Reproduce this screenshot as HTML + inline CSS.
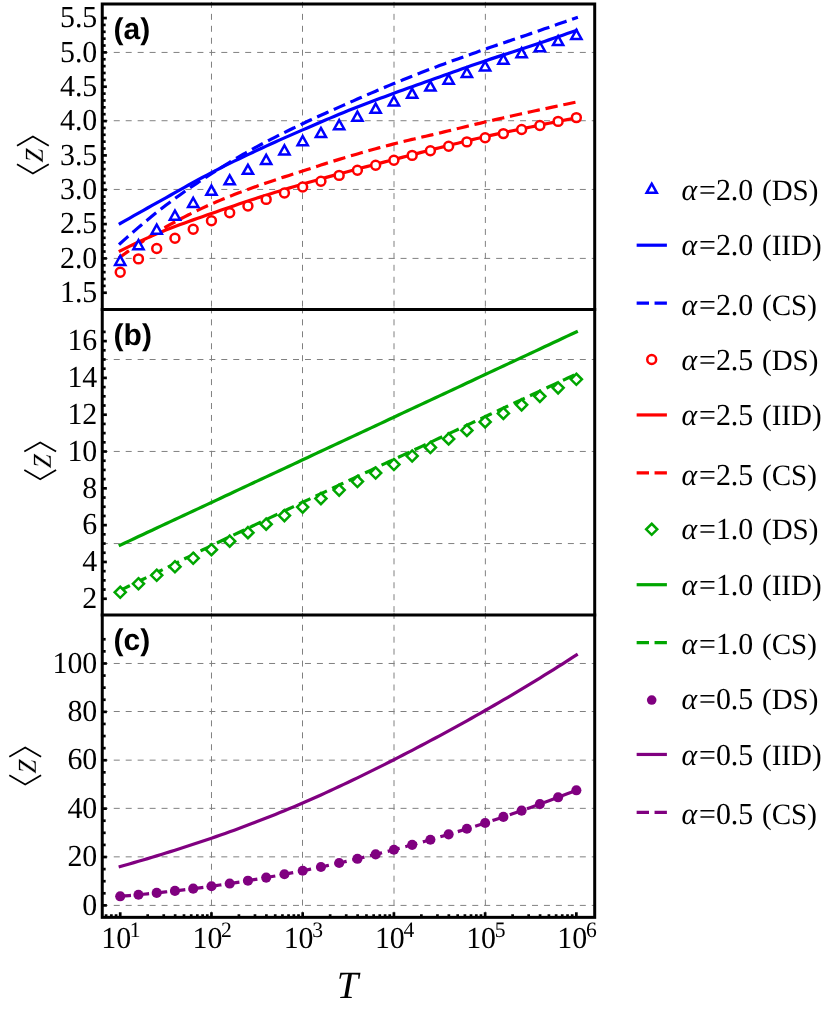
<!DOCTYPE html>
<html><head><meta charset="utf-8"><title>Figure</title>
<style>
html,body{margin:0;padding:0;background:#fff;}
body{width:830px;height:1010px;overflow:hidden;font-family:"Liberation Serif",serif;}
svg{display:block;will-change:transform;}
</style></head><body>
<svg width="830" height="1010" viewBox="0 0 830 1010">
<rect width="830" height="1010" fill="#fff"/>
<g stroke="#808080" stroke-width="1" stroke-dasharray="6 5.95" fill="none">
<path d="M211.48 1.9 V309.5"/>
<path d="M302.5 1.9 V309.5"/>
<path d="M394 1.9 V309.5"/>
<path d="M485.36 1.9 V309.5"/>
<path d="M101.8 258.4 H594.7"/>
<path d="M101.8 189.45 H594.7"/>
<path d="M101.8 120.72 H594.7"/>
<path d="M101.8 52.43 H594.7"/>
<path d="M211.48 307.4 V614.9"/>
<path d="M302.5 307.4 V614.9"/>
<path d="M394 307.4 V614.9"/>
<path d="M485.36 307.4 V614.9"/>
<path d="M101.8 543.55 H594.7"/>
<path d="M101.8 451.45 H594.7"/>
<path d="M101.8 359.5 H594.7"/>
<path d="M211.48 612.8 V917.35"/>
<path d="M302.5 612.8 V917.35"/>
<path d="M394 612.8 V917.35"/>
<path d="M485.36 612.8 V917.35"/>
<path d="M101.8 905.4 H594.7"/>
<path d="M101.8 856.85 H594.7"/>
<path d="M101.8 808.35 H594.7"/>
<path d="M101.8 760.15 H594.7"/>
<path d="M101.8 711.5 H594.7"/>
<path d="M101.8 663.47 H594.7"/>
</g>
<path d="M120.22 223.5 L124.78 220.91 L129.34 218.32 L133.9 215.73 L138.47 213.15 L143.03 210.58 L147.59 208.01 L152.15 205.45 L156.71 202.9 L161.27 200.35 L165.84 197.8 L170.4 195.25 L174.96 192.69 L179.52 190.12 L184.08 187.56 L188.64 185.01 L193.2 182.47 L197.77 179.96 L202.33 177.48 L206.89 175.04 L211.45 172.65 L216.01 170.3 L220.57 167.98 L225.13 165.69 L229.7 163.42 L234.26 161.18 L238.82 158.97 L243.38 156.77 L247.94 154.6 L252.5 152.44 L257.06 150.3 L261.63 148.18 L266.19 146.08 L270.75 144.01 L275.31 141.95 L279.87 139.91 L284.43 137.89 L289 135.88 L293.56 133.88 L298.12 131.89 L302.68 129.9 L307.24 127.92 L311.8 125.94 L316.36 123.96 L320.93 122 L325.49 120.05 L330.05 118.12 L334.61 116.2 L339.17 114.31 L343.73 112.44 L348.3 110.6 L352.86 108.79 L357.42 107 L361.98 105.24 L366.54 103.5 L371.1 101.77 L375.66 100.06 L380.23 98.36 L384.79 96.67 L389.35 94.98 L393.91 93.3 L398.47 91.62 L403.03 89.96 L407.59 88.3 L412.16 86.66 L416.72 85.02 L421.28 83.39 L425.84 81.76 L430.4 80.14 L434.96 78.52 L439.52 76.9 L444.09 75.28 L448.65 73.66 L453.21 72.04 L457.77 70.42 L462.33 68.8 L466.89 67.2 L471.46 65.6 L476.02 64.02 L480.58 62.45 L485.14 60.9 L489.7 59.37 L494.26 57.86 L498.82 56.37 L503.39 54.89 L507.95 53.42 L512.51 51.95 L517.07 50.48 L521.63 49 L526.19 47.51 L530.75 46 L535.32 44.47 L539.88 42.94 L544.44 41.4 L549 39.86 L553.56 38.31 L558.12 36.75 L562.69 35.18 L567.25 33.61 L571.81 32.03 L576.37 30.45" fill="none" stroke="#0000ff" stroke-width="3.2" stroke-linecap="square"/>
<path d="M120.22 243.5 L124.78 239.38 L129.34 235.33 L133.9 231.34 L138.47 227.41 L143.03 223.55 L147.59 219.76 L152.15 216.03 L156.71 212.38 L161.27 208.8 L165.84 205.3 L170.4 201.87 L174.96 198.5 L179.52 195.2 L184.08 191.95 L188.64 188.76 L193.2 185.63 L197.77 182.55 L202.33 179.52 L206.89 176.54 L211.45 173.6 L216.01 170.7 L220.57 167.85 L225.13 165.04 L229.7 162.28 L234.26 159.55 L238.82 156.87 L243.38 154.24 L247.94 151.65 L252.5 149.1 L257.06 146.6 L261.63 144.15 L266.19 141.74 L270.75 139.38 L275.31 137.05 L279.87 134.76 L284.43 132.51 L289 130.27 L293.56 128.06 L298.12 125.87 L302.68 123.7 L307.24 121.55 L311.8 119.42 L316.36 117.33 L320.93 115.25 L325.49 113.2 L330.05 111.16 L334.61 109.14 L339.17 107.12 L343.73 105.11 L348.3 103.1 L352.86 101.09 L357.42 99.09 L361.98 97.09 L366.54 95.1 L371.1 93.13 L375.66 91.17 L380.23 89.22 L384.79 87.29 L389.35 85.38 L393.91 83.5 L398.47 81.64 L403.03 79.79 L407.59 77.96 L412.16 76.15 L416.72 74.35 L421.28 72.57 L425.84 70.8 L430.4 69.05 L434.96 67.32 L439.52 65.6 L444.09 63.9 L448.65 62.22 L453.21 60.55 L457.77 58.9 L462.33 57.26 L466.89 55.63 L471.46 54.01 L476.02 52.4 L480.58 50.8 L485.14 49.2 L489.7 47.61 L494.26 46.03 L498.82 44.47 L503.39 42.92 L507.95 41.37 L512.51 39.82 L517.07 38.28 L521.63 36.73 L526.19 35.17 L530.75 33.6 L535.32 32.02 L539.88 30.44 L544.44 28.86 L549 27.28 L553.56 25.69 L558.12 24.1 L562.69 22.5 L567.25 20.9 L571.81 19.3 L576.37 17.7" fill="none" stroke="#0000ff" stroke-width="3.2" stroke-linecap="square" stroke-dasharray="9.2 9.01"/>
<path d="M120.22 250.9 L124.78 248.63 L129.34 246.4 L133.9 244.2 L138.47 242.05 L143.03 239.95 L147.59 237.88 L152.15 235.86 L156.71 233.89 L161.27 231.97 L165.84 230.1 L170.4 228.28 L174.96 226.52 L179.52 224.81 L184.08 223.13 L188.64 221.49 L193.2 219.87 L197.77 218.27 L202.33 216.68 L206.89 215.09 L211.45 213.5 L216.01 211.91 L220.57 210.32 L225.13 208.75 L229.7 207.19 L234.26 205.64 L238.82 204.1 L243.38 202.58 L247.94 201.07 L252.5 199.58 L257.06 198.1 L261.63 196.64 L266.19 195.19 L270.75 193.76 L275.31 192.34 L279.87 190.93 L284.43 189.53 L289 188.15 L293.56 186.79 L298.12 185.44 L302.68 184.1 L307.24 182.78 L311.8 181.48 L316.36 180.19 L320.93 178.91 L325.49 177.65 L330.05 176.39 L334.61 175.15 L339.17 173.91 L343.73 172.68 L348.3 171.45 L352.86 170.23 L357.42 169.02 L361.98 167.82 L366.54 166.63 L371.1 165.45 L375.66 164.27 L380.23 163.09 L384.79 161.91 L389.35 160.73 L393.91 159.55 L398.47 158.36 L403.03 157.17 L407.59 155.98 L412.16 154.79 L416.72 153.6 L421.28 152.41 L425.84 151.23 L430.4 150.06 L434.96 148.9 L439.52 147.75 L444.09 146.61 L448.65 145.46 L453.21 144.32 L457.77 143.19 L462.33 142.06 L466.89 140.95 L471.46 139.84 L476.02 138.76 L480.58 137.69 L485.14 136.65 L489.7 135.63 L494.26 134.63 L498.82 133.64 L503.39 132.67 L507.95 131.71 L512.51 130.76 L517.07 129.82 L521.63 128.88 L526.19 127.94 L530.75 127 L535.32 126.06 L539.88 125.12 L544.44 124.19 L549 123.27 L553.56 122.34 L558.12 121.43 L562.69 120.51 L567.25 119.6 L571.81 118.7 L576.37 117.8" fill="none" stroke="#ff0000" stroke-width="3.2" stroke-linecap="square"/>
<path d="M120.22 257 L124.78 253.68 L129.34 250.43 L133.9 247.24 L138.47 244.12 L143.03 241.07 L147.59 238.09 L152.15 235.2 L156.71 232.38 L161.27 229.65 L165.84 227 L170.4 224.43 L174.96 221.92 L179.52 219.47 L184.08 217.08 L188.64 214.76 L193.2 212.49 L197.77 210.28 L202.33 208.13 L206.89 206.04 L211.45 204 L216.01 202.02 L220.57 200.1 L225.13 198.22 L229.7 196.4 L234.26 194.61 L238.82 192.86 L243.38 191.15 L247.94 189.46 L252.5 187.8 L257.06 186.15 L261.63 184.53 L266.19 182.95 L270.75 181.4 L275.31 179.87 L279.87 178.37 L284.43 176.89 L289 175.41 L293.56 173.94 L298.12 172.47 L302.68 171 L307.24 169.52 L311.8 168.04 L316.36 166.57 L320.93 165.1 L325.49 163.64 L330.05 162.19 L334.61 160.76 L339.17 159.35 L343.73 157.96 L348.3 156.6 L352.86 155.26 L357.42 153.93 L361.98 152.61 L366.54 151.31 L371.1 150.03 L375.66 148.76 L380.23 147.52 L384.79 146.29 L389.35 145.08 L393.91 143.9 L398.47 142.74 L403.03 141.62 L407.59 140.51 L412.16 139.43 L416.72 138.35 L421.28 137.29 L425.84 136.22 L430.4 135.16 L434.96 134.09 L439.52 133 L444.09 131.9 L448.65 130.79 L453.21 129.68 L457.77 128.57 L462.33 127.46 L466.89 126.35 L471.46 125.25 L476.02 124.15 L480.58 123.07 L485.14 122 L489.7 120.94 L494.26 119.89 L498.82 118.85 L503.39 117.82 L507.95 116.79 L512.51 115.77 L517.07 114.76 L521.63 113.75 L526.19 112.75 L530.75 111.75 L535.32 110.76 L539.88 109.77 L544.44 108.79 L549 107.82 L553.56 106.85 L558.12 105.89 L562.69 104.93 L567.25 103.98 L571.81 103.04 L576.37 102.1" fill="none" stroke="#ff0000" stroke-width="3.2" stroke-linecap="square" stroke-dasharray="9.2 9.01"/>
<path d="M120.22 545.1 L124.78 542.97 L129.34 540.84 L133.9 538.7 L138.47 536.57 L143.03 534.44 L147.59 532.31 L152.15 530.18 L156.71 528.04 L161.27 525.91 L165.84 523.78 L170.4 521.65 L174.96 519.52 L179.52 517.38 L184.08 515.25 L188.64 513.12 L193.2 510.99 L197.77 508.86 L202.33 506.72 L206.89 504.59 L211.45 502.46 L216.01 500.33 L220.57 498.2 L225.13 496.06 L229.7 493.93 L234.26 491.8 L238.82 489.67 L243.38 487.54 L247.94 485.4 L252.5 483.27 L257.06 481.14 L261.63 479.01 L266.19 476.88 L270.75 474.74 L275.31 472.61 L279.87 470.48 L284.43 468.35 L289 466.22 L293.56 464.08 L298.12 461.95 L302.68 459.82 L307.24 457.69 L311.8 455.56 L316.36 453.42 L320.93 451.29 L325.49 449.16 L330.05 447.03 L334.61 444.9 L339.17 442.76 L343.73 440.63 L348.3 438.5 L352.86 436.37 L357.42 434.24 L361.98 432.1 L366.54 429.97 L371.1 427.84 L375.66 425.71 L380.23 423.58 L384.79 421.44 L389.35 419.31 L393.91 417.18 L398.47 415.05 L403.03 412.92 L407.59 410.78 L412.16 408.65 L416.72 406.52 L421.28 404.39 L425.84 402.26 L430.4 400.12 L434.96 397.99 L439.52 395.86 L444.09 393.73 L448.65 391.6 L453.21 389.46 L457.77 387.33 L462.33 385.2 L466.89 383.07 L471.46 380.94 L476.02 378.8 L480.58 376.67 L485.14 374.54 L489.7 372.41 L494.26 370.28 L498.82 368.14 L503.39 366.01 L507.95 363.88 L512.51 361.75 L517.07 359.62 L521.63 357.48 L526.19 355.35 L530.75 353.22 L535.32 351.09 L539.88 348.96 L544.44 346.82 L549 344.69 L553.56 342.56 L558.12 340.43 L562.69 338.3 L567.25 336.16 L571.81 334.03 L576.37 331.9" fill="none" stroke="#00a600" stroke-width="3.2" stroke-linecap="square"/>
<path d="M120.22 590.3 L124.78 588.09 L129.34 585.88 L133.9 583.67 L138.47 581.46 L143.03 579.24 L147.59 577.02 L152.15 574.79 L156.71 572.56 L161.27 570.33 L165.84 568.1 L170.4 565.86 L174.96 563.61 L179.52 561.35 L184.08 559.08 L188.64 556.82 L193.2 554.56 L197.77 552.3 L202.33 550.05 L206.89 547.82 L211.45 545.6 L216.01 543.4 L220.57 541.21 L225.13 539.03 L229.7 536.86 L234.26 534.69 L238.82 532.53 L243.38 530.38 L247.94 528.22 L252.5 526.06 L257.06 523.9 L261.63 521.74 L266.19 519.57 L270.75 517.41 L275.31 515.25 L279.87 513.09 L284.43 510.93 L289 508.78 L293.56 506.62 L298.12 504.46 L302.68 502.31 L307.24 500.15 L311.8 498 L316.36 495.85 L320.93 493.69 L325.49 491.54 L330.05 489.39 L334.61 487.24 L339.17 485.09 L343.73 482.95 L348.3 480.8 L352.86 478.65 L357.42 476.51 L361.98 474.37 L366.54 472.22 L371.1 470.08 L375.66 467.94 L380.23 465.8 L384.79 463.66 L389.35 461.53 L393.91 459.39 L398.47 457.25 L403.03 455.12 L407.59 452.98 L412.16 450.84 L416.72 448.71 L421.28 446.58 L425.84 444.44 L430.4 442.31 L434.96 440.17 L439.52 438.04 L444.09 435.91 L448.65 433.77 L453.21 431.64 L457.77 429.51 L462.33 427.37 L466.89 425.24 L471.46 423.11 L476.02 420.97 L480.58 418.84 L485.14 416.7 L489.7 414.56 L494.26 412.43 L498.82 410.29 L503.39 408.16 L507.95 406.02 L512.51 403.89 L517.07 401.75 L521.63 399.62 L526.19 397.48 L530.75 395.35 L535.32 393.21 L539.88 391.08 L544.44 388.94 L549 386.81 L553.56 384.67 L558.12 382.54 L562.69 380.4 L567.25 378.27 L571.81 376.13 L576.37 374" fill="none" stroke="#00a600" stroke-width="3.2" stroke-linecap="square" stroke-dasharray="9.2 9.01"/>
<path d="M120.22 866.5 L124.78 865.21 L129.34 863.92 L133.9 862.61 L138.47 861.28 L143.03 859.95 L147.59 858.6 L152.15 857.24 L156.71 855.86 L161.27 854.47 L165.84 853.07 L170.4 851.65 L174.96 850.22 L179.52 848.77 L184.08 847.31 L188.64 845.83 L193.2 844.34 L197.77 842.83 L202.33 841.3 L206.89 839.76 L211.45 838.2 L216.01 836.62 L220.57 835.03 L225.13 833.42 L229.7 831.78 L234.26 830.14 L238.82 828.47 L243.38 826.78 L247.94 825.08 L252.5 823.35 L257.06 821.61 L261.63 819.84 L266.19 818.05 L270.75 816.25 L275.31 814.42 L279.87 812.57 L284.43 810.7 L289 808.81 L293.56 806.9 L298.12 804.96 L302.68 803 L307.24 801.02 L311.8 799.01 L316.36 796.99 L320.93 794.94 L325.49 792.87 L330.05 790.78 L334.61 788.67 L339.17 786.55 L343.73 784.4 L348.3 782.24 L352.86 780.05 L357.42 777.85 L361.98 775.64 L366.54 773.4 L371.1 771.16 L375.66 768.89 L380.23 766.62 L384.79 764.32 L389.35 762.02 L393.91 759.7 L398.47 757.37 L403.03 755.03 L407.59 752.67 L412.16 750.3 L416.72 747.92 L421.28 745.52 L425.84 743.11 L430.4 740.69 L434.96 738.26 L439.52 735.8 L444.09 733.34 L448.65 730.86 L453.21 728.37 L457.77 725.86 L462.33 723.34 L466.89 720.8 L471.46 718.25 L476.02 715.68 L480.58 713.1 L485.14 710.5 L489.7 707.89 L494.26 705.26 L498.82 702.61 L503.39 699.95 L507.95 697.27 L512.51 694.57 L517.07 691.86 L521.63 689.13 L526.19 686.38 L530.75 683.62 L535.32 680.84 L539.88 678.04 L544.44 675.22 L549 672.39 L553.56 669.54 L558.12 666.67 L562.69 663.78 L567.25 660.87 L571.81 657.95 L576.37 655" fill="none" stroke="#800080" stroke-width="3.2" stroke-linecap="square"/>
<path d="M120.22 896.31 L124.78 895.93 L129.34 895.54 L133.9 895.13 L138.47 894.71 L143.03 894.28 L147.59 893.84 L152.15 893.38 L156.71 892.91 L161.27 892.42 L165.84 891.93 L170.4 891.41 L174.96 890.89 L179.52 890.35 L184.08 889.8 L188.64 889.24 L193.2 888.66 L197.77 888.07 L202.33 887.47 L206.89 886.85 L211.45 886.22 L216.01 885.58 L220.57 884.92 L225.13 884.25 L229.7 883.56 L234.26 882.86 L238.82 882.15 L243.38 881.43 L247.94 880.69 L252.5 879.94 L257.06 879.17 L261.63 878.39 L266.19 877.6 L270.75 876.79 L275.31 875.97 L279.87 875.13 L284.43 874.28 L289 873.42 L293.56 872.55 L298.12 871.66 L302.68 870.75 L307.24 869.83 L311.8 868.9 L316.36 867.96 L320.93 867 L325.49 866.02 L330.05 865.04 L334.61 864.03 L339.17 863.02 L343.73 861.99 L348.3 860.94 L352.86 859.89 L357.42 858.81 L361.98 857.73 L366.54 856.63 L371.1 855.51 L375.66 854.38 L380.23 853.24 L384.79 852.08 L389.35 850.91 L393.91 849.73 L398.47 848.53 L403.03 847.31 L407.59 846.08 L412.16 844.84 L416.72 843.58 L421.28 842.31 L425.84 841.02 L430.4 839.72 L434.96 838.41 L439.52 837.08 L444.09 835.73 L448.65 834.37 L453.21 833 L457.77 831.61 L462.33 830.21 L466.89 828.79 L471.46 827.36 L476.02 825.91 L480.58 824.45 L485.14 822.97 L489.7 821.48 L494.26 819.97 L498.82 818.45 L503.39 816.92 L507.95 815.37 L512.51 813.8 L517.07 812.22 L521.63 810.62 L526.19 809.01 L530.75 807.39 L535.32 805.75 L539.88 804.09 L544.44 802.42 L549 800.74 L553.56 799.04 L558.12 797.32 L562.69 795.59 L567.25 793.84 L571.81 792.08 L576.37 790.31" fill="none" stroke="#800080" stroke-width="3.2" stroke-linecap="square" stroke-dasharray="9.2 9.01"/>
<g fill="#fff" stroke="#0000ff" stroke-width="2.5" stroke-linejoin="miter">
<path d="M120.22 255.88 L125.32 264.98 L115.12 264.98 Z"/>
<path d="M138.47 240.07 L143.57 249.17 L133.37 249.17 Z"/>
<path d="M156.71 224.57 L161.81 233.67 L151.61 233.67 Z"/>
<path d="M174.96 210.57 L180.06 219.67 L169.86 219.67 Z"/>
<path d="M193.2 197.88 L198.3 206.97 L188.1 206.97 Z"/>
<path d="M211.45 185.67 L216.55 194.77 L206.35 194.77 Z"/>
<path d="M229.7 175.27 L234.8 184.37 L224.6 184.37 Z"/>
<path d="M247.94 164.77 L253.04 173.87 L242.84 173.87 Z"/>
<path d="M266.19 154.88 L271.29 163.97 L261.09 163.97 Z"/>
<path d="M284.43 145.38 L289.53 154.47 L279.33 154.47 Z"/>
<path d="M302.68 136.07 L307.78 145.17 L297.58 145.17 Z"/>
<path d="M320.93 127.98 L326.03 137.08 L315.83 137.08 Z"/>
<path d="M339.17 120.08 L344.27 129.18 L334.07 129.18 Z"/>
<path d="M357.42 111.58 L362.52 120.67 L352.32 120.67 Z"/>
<path d="M375.66 103.67 L380.76 112.77 L370.56 112.77 Z"/>
<path d="M393.91 96.38 L399.01 105.47 L388.81 105.47 Z"/>
<path d="M412.16 88.67 L417.26 97.77 L407.06 97.77 Z"/>
<path d="M430.4 81.48 L435.5 90.58 L425.3 90.58 Z"/>
<path d="M448.65 74.58 L453.75 83.67 L443.55 83.67 Z"/>
<path d="M466.89 67.88 L471.99 76.97 L461.79 76.97 Z"/>
<path d="M485.14 61.28 L490.24 70.38 L480.04 70.38 Z"/>
<path d="M503.39 54.58 L508.49 63.68 L498.29 63.68 Z"/>
<path d="M521.63 48.08 L526.73 57.18 L516.53 57.18 Z"/>
<path d="M539.88 42.08 L544.98 51.18 L534.78 51.18 Z"/>
<path d="M558.12 35.98 L563.22 45.08 L553.02 45.08 Z"/>
<path d="M576.37 29.78 L581.47 38.88 L571.27 38.88 Z"/>
</g>
<g fill="#fff" stroke="#ff0000" stroke-width="2.5">
<circle cx="120.22" cy="272.2" r="4.45"/>
<circle cx="138.47" cy="258.9" r="4.45"/>
<circle cx="156.71" cy="248.5" r="4.45"/>
<circle cx="174.96" cy="238.2" r="4.45"/>
<circle cx="193.2" cy="229.3" r="4.45"/>
<circle cx="211.45" cy="220.7" r="4.45"/>
<circle cx="229.7" cy="212.7" r="4.45"/>
<circle cx="247.94" cy="206" r="4.45"/>
<circle cx="266.19" cy="199.4" r="4.45"/>
<circle cx="284.43" cy="193" r="4.45"/>
<circle cx="302.68" cy="187" r="4.45"/>
<circle cx="320.93" cy="181.3" r="4.45"/>
<circle cx="339.17" cy="175.4" r="4.45"/>
<circle cx="357.42" cy="170.2" r="4.45"/>
<circle cx="375.66" cy="165.2" r="4.45"/>
<circle cx="393.91" cy="160.3" r="4.45"/>
<circle cx="412.16" cy="155.4" r="4.45"/>
<circle cx="430.4" cy="150.8" r="4.45"/>
<circle cx="448.65" cy="146.2" r="4.45"/>
<circle cx="466.89" cy="141.9" r="4.45"/>
<circle cx="485.14" cy="137.7" r="4.45"/>
<circle cx="503.39" cy="133.6" r="4.45"/>
<circle cx="521.63" cy="129.5" r="4.45"/>
<circle cx="539.88" cy="125.5" r="4.45"/>
<circle cx="558.12" cy="121.4" r="4.45"/>
<circle cx="576.37" cy="117.6" r="4.45"/>
</g>
<g fill="#fff" stroke="#00a600" stroke-width="2.5" stroke-linejoin="miter">
<path d="M120.22 586.75 L125.77 592.3 L120.22 597.85 L114.67 592.3 Z"/>
<path d="M138.47 578.23 L144.02 583.78 L138.47 589.33 L132.92 583.78 Z"/>
<path d="M156.71 569.71 L162.26 575.26 L156.71 580.81 L151.16 575.26 Z"/>
<path d="M174.96 561.19 L180.51 566.74 L174.96 572.29 L169.41 566.74 Z"/>
<path d="M193.2 552.67 L198.75 558.22 L193.2 563.77 L187.65 558.22 Z"/>
<path d="M211.45 544.15 L217 549.7 L211.45 555.25 L205.9 549.7 Z"/>
<path d="M229.7 535.63 L235.25 541.18 L229.7 546.73 L224.15 541.18 Z"/>
<path d="M247.94 527.11 L253.49 532.66 L247.94 538.21 L242.39 532.66 Z"/>
<path d="M266.19 518.59 L271.74 524.14 L266.19 529.69 L260.64 524.14 Z"/>
<path d="M284.43 510.07 L289.98 515.62 L284.43 521.17 L278.88 515.62 Z"/>
<path d="M302.68 501.55 L308.23 507.1 L302.68 512.65 L297.13 507.1 Z"/>
<path d="M320.93 493.03 L326.48 498.58 L320.93 504.13 L315.38 498.58 Z"/>
<path d="M339.17 484.51 L344.72 490.06 L339.17 495.61 L333.62 490.06 Z"/>
<path d="M357.42 475.99 L362.97 481.54 L357.42 487.09 L351.87 481.54 Z"/>
<path d="M375.66 467.47 L381.21 473.02 L375.66 478.57 L370.11 473.02 Z"/>
<path d="M393.91 458.95 L399.46 464.5 L393.91 470.05 L388.36 464.5 Z"/>
<path d="M412.16 450.43 L417.71 455.98 L412.16 461.53 L406.61 455.98 Z"/>
<path d="M430.4 441.91 L435.95 447.46 L430.4 453.01 L424.85 447.46 Z"/>
<path d="M448.65 433.39 L454.2 438.94 L448.65 444.49 L443.1 438.94 Z"/>
<path d="M466.89 424.87 L472.44 430.42 L466.89 435.97 L461.34 430.42 Z"/>
<path d="M485.14 416.35 L490.69 421.9 L485.14 427.45 L479.59 421.9 Z"/>
<path d="M503.39 407.83 L508.94 413.38 L503.39 418.93 L497.84 413.38 Z"/>
<path d="M521.63 399.31 L527.18 404.86 L521.63 410.41 L516.08 404.86 Z"/>
<path d="M539.88 390.79 L545.43 396.34 L539.88 401.89 L534.33 396.34 Z"/>
<path d="M558.12 382.27 L563.67 387.82 L558.12 393.37 L552.57 387.82 Z"/>
<path d="M576.37 373.75 L581.92 379.3 L576.37 384.85 L570.82 379.3 Z"/>
</g>
<g fill="#800080">
<circle cx="120.22" cy="896.31" r="5.05"/>
<circle cx="138.47" cy="894.71" r="5.05"/>
<circle cx="156.71" cy="892.91" r="5.05"/>
<circle cx="174.96" cy="890.89" r="5.05"/>
<circle cx="193.2" cy="888.66" r="5.05"/>
<circle cx="211.45" cy="886.22" r="5.05"/>
<circle cx="229.7" cy="883.56" r="5.05"/>
<circle cx="247.94" cy="880.69" r="5.05"/>
<circle cx="266.19" cy="877.6" r="5.05"/>
<circle cx="284.43" cy="874.28" r="5.05"/>
<circle cx="302.68" cy="870.75" r="5.05"/>
<circle cx="320.93" cy="867" r="5.05"/>
<circle cx="339.17" cy="863.02" r="5.05"/>
<circle cx="357.42" cy="858.81" r="5.05"/>
<circle cx="375.66" cy="854.38" r="5.05"/>
<circle cx="393.91" cy="849.73" r="5.05"/>
<circle cx="412.16" cy="844.84" r="5.05"/>
<circle cx="430.4" cy="839.72" r="5.05"/>
<circle cx="448.65" cy="834.37" r="5.05"/>
<circle cx="466.89" cy="828.79" r="5.05"/>
<circle cx="485.14" cy="822.97" r="5.05"/>
<circle cx="503.39" cy="816.92" r="5.05"/>
<circle cx="521.63" cy="810.62" r="5.05"/>
<circle cx="539.88" cy="804.09" r="5.05"/>
<circle cx="558.12" cy="797.32" r="5.05"/>
<circle cx="576.37" cy="790.31" r="5.05"/>
</g>
<g stroke="#000" stroke-width="2.7" fill="none">
<path d="M102.25 292.75 H106.85"/>
<path d="M102.25 285.88 H105.65"/>
<path d="M102.25 279.01 H105.65"/>
<path d="M102.25 272.14 H105.65"/>
<path d="M102.25 265.28 H105.65"/>
<path d="M102.25 258.41 H106.85"/>
<path d="M102.25 251.54 H105.65"/>
<path d="M102.25 244.68 H105.65"/>
<path d="M102.25 237.81 H105.65"/>
<path d="M102.25 230.94 H105.65"/>
<path d="M102.25 224.08 H106.85"/>
<path d="M102.25 217.21 H105.65"/>
<path d="M102.25 210.34 H105.65"/>
<path d="M102.25 203.47 H105.65"/>
<path d="M102.25 196.61 H105.65"/>
<path d="M102.25 189.74 H106.85"/>
<path d="M102.25 182.87 H105.65"/>
<path d="M102.25 176.01 H105.65"/>
<path d="M102.25 169.14 H105.65"/>
<path d="M102.25 162.27 H105.65"/>
<path d="M102.25 155.41 H106.85"/>
<path d="M102.25 148.54 H105.65"/>
<path d="M102.25 141.67 H105.65"/>
<path d="M102.25 134.8 H105.65"/>
<path d="M102.25 127.94 H105.65"/>
<path d="M102.25 121.07 H106.85"/>
<path d="M102.25 114.2 H105.65"/>
<path d="M102.25 107.34 H105.65"/>
<path d="M102.25 100.47 H105.65"/>
<path d="M102.25 93.6 H105.65"/>
<path d="M102.25 86.73 H106.85"/>
<path d="M102.25 79.87 H105.65"/>
<path d="M102.25 73 H105.65"/>
<path d="M102.25 66.13 H105.65"/>
<path d="M102.25 59.27 H105.65"/>
<path d="M102.25 52.4 H106.85"/>
<path d="M102.25 45.53 H105.65"/>
<path d="M102.25 38.67 H105.65"/>
<path d="M102.25 31.8 H105.65"/>
<path d="M102.25 24.93 H105.65"/>
<path d="M102.25 18.06 H106.85"/>
<path d="M102.25 598.76 H106.85"/>
<path d="M102.25 589.56 H105.65"/>
<path d="M102.25 580.36 H105.65"/>
<path d="M102.25 571.16 H105.65"/>
<path d="M102.25 561.96 H106.85"/>
<path d="M102.25 552.75 H105.65"/>
<path d="M102.25 543.55 H105.65"/>
<path d="M102.25 534.35 H105.65"/>
<path d="M102.25 525.14 H106.85"/>
<path d="M102.25 515.94 H105.65"/>
<path d="M102.25 506.74 H105.65"/>
<path d="M102.25 497.54 H105.65"/>
<path d="M102.25 488.34 H106.85"/>
<path d="M102.25 479.13 H105.65"/>
<path d="M102.25 469.93 H105.65"/>
<path d="M102.25 460.73 H105.65"/>
<path d="M102.25 451.52 H106.85"/>
<path d="M102.25 442.32 H105.65"/>
<path d="M102.25 433.12 H105.65"/>
<path d="M102.25 423.92 H105.65"/>
<path d="M102.25 414.72 H106.85"/>
<path d="M102.25 405.51 H105.65"/>
<path d="M102.25 396.31 H105.65"/>
<path d="M102.25 387.11 H105.65"/>
<path d="M102.25 377.9 H106.85"/>
<path d="M102.25 368.7 H105.65"/>
<path d="M102.25 359.5 H105.65"/>
<path d="M102.25 350.3 H105.65"/>
<path d="M102.25 341.1 H106.85"/>
<path d="M102.25 331.89 H105.65"/>
<path d="M102.25 905.4 H106.85"/>
<path d="M102.25 893.3 H105.65"/>
<path d="M102.25 881.21 H105.65"/>
<path d="M102.25 869.11 H105.65"/>
<path d="M102.25 857.01 H106.85"/>
<path d="M102.25 844.92 H105.65"/>
<path d="M102.25 832.82 H105.65"/>
<path d="M102.25 820.72 H105.65"/>
<path d="M102.25 808.63 H106.85"/>
<path d="M102.25 796.53 H105.65"/>
<path d="M102.25 784.43 H105.65"/>
<path d="M102.25 772.34 H105.65"/>
<path d="M102.25 760.24 H106.85"/>
<path d="M102.25 748.15 H105.65"/>
<path d="M102.25 736.05 H105.65"/>
<path d="M102.25 723.95 H105.65"/>
<path d="M102.25 711.86 H106.85"/>
<path d="M102.25 699.76 H105.65"/>
<path d="M102.25 687.66 H105.65"/>
<path d="M102.25 675.57 H105.65"/>
<path d="M102.25 663.47 H106.85"/>
<path d="M102.25 651.37 H105.65"/>
<path d="M102.25 639.28 H105.65"/>
<path d="M106.09 917.35 V914.25"/>
<path d="M111.38 917.35 V914.25"/>
<path d="M116.05 917.35 V914.25"/>
<path d="M120.22 917.35 V912.25"/>
<path d="M147.68 917.35 V914.25"/>
<path d="M163.75 917.35 V914.25"/>
<path d="M175.15 917.35 V914.25"/>
<path d="M183.99 917.35 V914.25"/>
<path d="M191.21 917.35 V914.25"/>
<path d="M197.32 917.35 V914.25"/>
<path d="M202.61 917.35 V914.25"/>
<path d="M207.28 917.35 V914.25"/>
<path d="M211.45 917.35 V912.25"/>
<path d="M238.91 917.35 V914.25"/>
<path d="M254.98 917.35 V914.25"/>
<path d="M266.38 917.35 V914.25"/>
<path d="M275.22 917.35 V914.25"/>
<path d="M282.44 917.35 V914.25"/>
<path d="M288.55 917.35 V914.25"/>
<path d="M293.84 917.35 V914.25"/>
<path d="M298.51 917.35 V914.25"/>
<path d="M302.68 917.35 V912.25"/>
<path d="M330.14 917.35 V914.25"/>
<path d="M346.21 917.35 V914.25"/>
<path d="M357.61 917.35 V914.25"/>
<path d="M366.45 917.35 V914.25"/>
<path d="M373.67 917.35 V914.25"/>
<path d="M379.78 917.35 V914.25"/>
<path d="M385.07 917.35 V914.25"/>
<path d="M389.74 917.35 V914.25"/>
<path d="M393.91 917.35 V912.25"/>
<path d="M421.37 917.35 V914.25"/>
<path d="M437.44 917.35 V914.25"/>
<path d="M448.84 917.35 V914.25"/>
<path d="M457.68 917.35 V914.25"/>
<path d="M464.9 917.35 V914.25"/>
<path d="M471.01 917.35 V914.25"/>
<path d="M476.3 917.35 V914.25"/>
<path d="M480.97 917.35 V914.25"/>
<path d="M485.14 917.35 V912.25"/>
<path d="M512.6 917.35 V914.25"/>
<path d="M528.67 917.35 V914.25"/>
<path d="M540.07 917.35 V914.25"/>
<path d="M548.91 917.35 V914.25"/>
<path d="M556.13 917.35 V914.25"/>
<path d="M562.24 917.35 V914.25"/>
<path d="M567.53 917.35 V914.25"/>
<path d="M572.2 917.35 V914.25"/>
<path d="M576.37 917.35 V912.25"/>
</g>
<g stroke="#000" stroke-width="3" fill="none" stroke-linecap="square">
<rect x="102.25" y="4" width="492.45" height="913.35"/>
<path d="M102.25 309.5 H594.7 M102.25 614.9 H594.7"/>
</g>
<g font-family="'Liberation Serif', serif" fill="#000" text-rendering="geometricPrecision">
<text transform="translate(97.3 301.94) scale(0.98 1)" text-anchor="end" font-size="30.5" >1.5</text>
<text transform="translate(97.3 267.61) scale(0.98 1)" text-anchor="end" font-size="30.5" >2.0</text>
<text transform="translate(97.3 233.28) scale(0.98 1)" text-anchor="end" font-size="30.5" >2.5</text>
<text transform="translate(97.3 198.94) scale(0.98 1)" text-anchor="end" font-size="30.5" >3.0</text>
<text transform="translate(97.3 164.6) scale(0.98 1)" text-anchor="end" font-size="30.5" >3.5</text>
<text transform="translate(97.3 130.27) scale(0.98 1)" text-anchor="end" font-size="30.5" >4.0</text>
<text transform="translate(97.3 95.94) scale(0.98 1)" text-anchor="end" font-size="30.5" >4.5</text>
<text transform="translate(97.3 61.6) scale(0.98 1)" text-anchor="end" font-size="30.5" >5.0</text>
<text transform="translate(97.3 27.26) scale(0.98 1)" text-anchor="end" font-size="30.5" >5.5</text>
<text transform="translate(97.3 607.97) scale(0.98 1)" text-anchor="end" font-size="30.5" >2</text>
<text transform="translate(97.3 571.16) scale(0.98 1)" text-anchor="end" font-size="30.5" >4</text>
<text transform="translate(97.3 534.35) scale(0.98 1)" text-anchor="end" font-size="30.5" >6</text>
<text transform="translate(97.3 497.54) scale(0.98 1)" text-anchor="end" font-size="30.5" >8</text>
<text transform="translate(97.3 460.72) scale(0.98 1)" text-anchor="end" font-size="30.5" >10</text>
<text transform="translate(97.3 423.92) scale(0.98 1)" text-anchor="end" font-size="30.5" >12</text>
<text transform="translate(97.3 387.1) scale(0.98 1)" text-anchor="end" font-size="30.5" >14</text>
<text transform="translate(97.3 350.3) scale(0.98 1)" text-anchor="end" font-size="30.5" >16</text>
<text transform="translate(97.3 914.6) scale(0.98 1)" text-anchor="end" font-size="30.5" >0</text>
<text transform="translate(97.3 866.21) scale(0.98 1)" text-anchor="end" font-size="30.5" >20</text>
<text transform="translate(97.3 817.83) scale(0.98 1)" text-anchor="end" font-size="30.5" >40</text>
<text transform="translate(97.3 769.44) scale(0.98 1)" text-anchor="end" font-size="30.5" >60</text>
<text transform="translate(97.3 721.06) scale(0.98 1)" text-anchor="end" font-size="30.5" >80</text>
<text transform="translate(97.3 672.67) scale(0.98 1)" text-anchor="end" font-size="30.5" >100</text>
<text transform="translate(101.22 947.6) scale(0.98 1)" text-anchor="start" font-size="30.5" >10<tspan font-size="22" dy="-11" dx="-1.4">1</tspan></text>
<text transform="translate(192.45 947.6) scale(0.98 1)" text-anchor="start" font-size="30.5" >10<tspan font-size="22" dy="-11" dx="-1.4">2</tspan></text>
<text transform="translate(283.68 947.6) scale(0.98 1)" text-anchor="start" font-size="30.5" >10<tspan font-size="22" dy="-11" dx="-1.4">3</tspan></text>
<text transform="translate(374.91 947.6) scale(0.98 1)" text-anchor="start" font-size="30.5" >10<tspan font-size="22" dy="-11" dx="-1.4">4</tspan></text>
<text transform="translate(466.14 947.6) scale(0.98 1)" text-anchor="start" font-size="30.5" >10<tspan font-size="22" dy="-11" dx="-1.4">5</tspan></text>
<text transform="translate(557.37 947.6) scale(0.98 1)" text-anchor="start" font-size="30.5" >10<tspan font-size="22" dy="-11" dx="-1.4">6</tspan></text>
</g>
<g font-family="'Liberation Sans', sans-serif" font-weight="bold" font-size="30" fill="#000" text-rendering="geometricPrecision">
<text x="113.6" y="39">(a)</text>
<text x="113.6" y="344.9">(b)</text>
<text x="113.6" y="650.4">(c)</text>
</g>
<text x="347.5" y="998" text-anchor="middle" font-family="'Liberation Serif', serif" font-style="italic" font-size="38.6" text-rendering="geometricPrecision">T</text>
<g stroke="#000" stroke-width="1.75" fill="none" stroke-linejoin="miter" stroke-linecap="butt">
<path d="M17 145.7 L32.9 136.6 L48.8 145.7"/>
<path d="M17 164.3 L32.9 173.4 L48.8 164.3"/>
</g>
<text transform="translate(43.3 154.7) rotate(-90)" text-anchor="middle" font-family="'Liberation Serif', serif" font-style="italic" font-size="37.5" stroke="#fff" stroke-width="0.4" text-rendering="geometricPrecision">z</text>
<g stroke="#000" stroke-width="1.75" fill="none" stroke-linejoin="miter" stroke-linecap="butt">
<path d="M24.3 451.5 L40.2 442.4 L56.1 451.5"/>
<path d="M24.3 470.1 L40.2 479.2 L56.1 470.1"/>
</g>
<text transform="translate(50.6 460.5) rotate(-90)" text-anchor="middle" font-family="'Liberation Serif', serif" font-style="italic" font-size="37.5" stroke="#fff" stroke-width="0.4" text-rendering="geometricPrecision">z</text>
<g stroke="#000" stroke-width="1.75" fill="none" stroke-linejoin="miter" stroke-linecap="butt">
<path d="M9.3 756.7 L25.2 747.6 L41.1 756.7"/>
<path d="M9.3 775.3 L25.2 784.4 L41.1 775.3"/>
</g>
<text transform="translate(35.6 765.7) rotate(-90)" text-anchor="middle" font-family="'Liberation Serif', serif" font-style="italic" font-size="37.5" stroke="#fff" stroke-width="0.4" text-rendering="geometricPrecision">z</text>
<path d="M651.7 183.73 L656.8 192.83 L646.6 192.83 Z" fill="#fff" stroke="#0000ff" stroke-width="2.5"/>
<g font-family="'Liberation Serif', serif" fill="#000" text-rendering="geometricPrecision">
<text transform="translate(681.6 199.8) scale(0.98 1)" text-anchor="start" font-size="30.5" ><tspan font-style="italic">α</tspan><tspan dx="1.8">=2.0 </tspan><tspan dx="1.3" font-size="29.6">(DS)</tspan></text>
</g>
<path d="M636.65 245.2 H666.9" stroke="#0000ff" stroke-width="3.2" fill="none"/>
<g font-family="'Liberation Serif', serif" fill="#000" text-rendering="geometricPrecision">
<text transform="translate(681.6 255.3) scale(0.98 1)" text-anchor="start" font-size="30.5" ><tspan font-style="italic">α</tspan><tspan dx="1.8">=2.0 </tspan><tspan dx="1.3" font-size="29.6">(IID)</tspan></text>
</g>
<path d="M636.65 303.1 H666.9" stroke="#0000ff" stroke-width="3.2" stroke-dasharray="12.35 5.55" fill="none"/>
<g font-family="'Liberation Serif', serif" fill="#000" text-rendering="geometricPrecision">
<text transform="translate(681.6 314.9) scale(0.98 1)" text-anchor="start" font-size="30.5" ><tspan font-style="italic">α</tspan><tspan dx="1.8">=2.0 </tspan><tspan dx="1.3" font-size="29.6">(CS)</tspan></text>
</g>
<circle cx="651.7" cy="359.55" r="4.45" fill="#fff" stroke="#ff0000" stroke-width="2.5"/>
<g font-family="'Liberation Serif', serif" fill="#000" text-rendering="geometricPrecision">
<text transform="translate(681.6 369.55) scale(0.98 1)" text-anchor="start" font-size="30.5" ><tspan font-style="italic">α</tspan><tspan dx="1.8">=2.5 </tspan><tspan dx="1.3" font-size="29.6">(DS)</tspan></text>
</g>
<path d="M636.65 414.95 H666.9" stroke="#ff0000" stroke-width="3.2" fill="none"/>
<g font-family="'Liberation Serif', serif" fill="#000" text-rendering="geometricPrecision">
<text transform="translate(681.6 425.05) scale(0.98 1)" text-anchor="start" font-size="30.5" ><tspan font-style="italic">α</tspan><tspan dx="1.8">=2.5 </tspan><tspan dx="1.3" font-size="29.6">(IID)</tspan></text>
</g>
<path d="M636.65 472.85 H666.9" stroke="#ff0000" stroke-width="3.2" stroke-dasharray="12.35 5.55" fill="none"/>
<g font-family="'Liberation Serif', serif" fill="#000" text-rendering="geometricPrecision">
<text transform="translate(681.6 484.65) scale(0.98 1)" text-anchor="start" font-size="30.5" ><tspan font-style="italic">α</tspan><tspan dx="1.8">=2.5 </tspan><tspan dx="1.3" font-size="29.6">(CS)</tspan></text>
</g>
<path d="M651.7 523.75 L657.25 529.3 L651.7 534.85 L646.15 529.3 Z" fill="#fff" stroke="#00a600" stroke-width="2.5"/>
<g font-family="'Liberation Serif', serif" fill="#000" text-rendering="geometricPrecision">
<text transform="translate(681.6 539.3) scale(0.98 1)" text-anchor="start" font-size="30.5" ><tspan font-style="italic">α</tspan><tspan dx="1.8">=1.0 </tspan><tspan dx="1.3" font-size="29.6">(DS)</tspan></text>
</g>
<path d="M636.65 584.7 H666.9" stroke="#00a600" stroke-width="3.2" fill="none"/>
<g font-family="'Liberation Serif', serif" fill="#000" text-rendering="geometricPrecision">
<text transform="translate(681.6 594.8) scale(0.98 1)" text-anchor="start" font-size="30.5" ><tspan font-style="italic">α</tspan><tspan dx="1.8">=1.0 </tspan><tspan dx="1.3" font-size="29.6">(IID)</tspan></text>
</g>
<path d="M636.65 642.6 H666.9" stroke="#00a600" stroke-width="3.2" stroke-dasharray="12.35 5.55" fill="none"/>
<g font-family="'Liberation Serif', serif" fill="#000" text-rendering="geometricPrecision">
<text transform="translate(681.6 654.4) scale(0.98 1)" text-anchor="start" font-size="30.5" ><tspan font-style="italic">α</tspan><tspan dx="1.8">=1.0 </tspan><tspan dx="1.3" font-size="29.6">(CS)</tspan></text>
</g>
<circle cx="651.7" cy="700.05" r="4.8" fill="#800080"/>
<g font-family="'Liberation Serif', serif" fill="#000" text-rendering="geometricPrecision">
<text transform="translate(681.6 709.05) scale(0.98 1)" text-anchor="start" font-size="30.5" ><tspan font-style="italic">α</tspan><tspan dx="1.8">=0.5 </tspan><tspan dx="1.3" font-size="29.6">(DS)</tspan></text>
</g>
<path d="M636.65 754.45 H666.9" stroke="#800080" stroke-width="3.2" fill="none"/>
<g font-family="'Liberation Serif', serif" fill="#000" text-rendering="geometricPrecision">
<text transform="translate(681.6 764.55) scale(0.98 1)" text-anchor="start" font-size="30.5" ><tspan font-style="italic">α</tspan><tspan dx="1.8">=0.5 </tspan><tspan dx="1.3" font-size="29.6">(IID)</tspan></text>
</g>
<path d="M636.65 812.35 H666.9" stroke="#800080" stroke-width="3.2" stroke-dasharray="12.35 5.55" fill="none"/>
<g font-family="'Liberation Serif', serif" fill="#000" text-rendering="geometricPrecision">
<text transform="translate(681.6 824.15) scale(0.98 1)" text-anchor="start" font-size="30.5" ><tspan font-style="italic">α</tspan><tspan dx="1.8">=0.5 </tspan><tspan dx="1.3" font-size="29.6">(CS)</tspan></text>
</g>
</svg>
</body></html>
